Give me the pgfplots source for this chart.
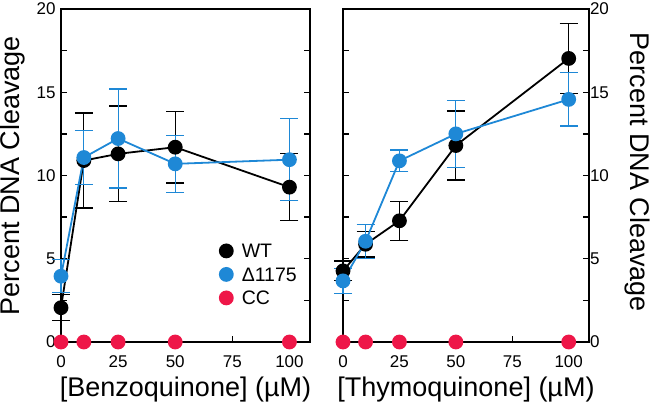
\documentclass[border=0pt]{standalone}
\usepackage{fontspec}
\setmainfont{Liberation Sans}
\usepackage{pgfplots}
\pgfplotsset{compat=1.18}
\definecolor{myblue}{RGB}{30,136,214}
\definecolor{myred}{RGB}{238,22,72}
\pgfplotsset{
  panel/.style={
    scale only axis, width=249pt, height=333pt,
    xmin=0, xmax=109, ymin=0, ymax=20,
    xtick={0,25,50,75,100}, ytick={0,5,10,15,20}, minor ytick={2.5,7.5,12.5,17.5},
    xtick pos=bottom, ytick pos=both, tick align=inside,
    major tick length=6pt, minor tick length=6pt,
    every tick/.style={black, line width=1.3pt},
    axis line style={line width=1.6pt},
    /pgf/number format/assume math mode=true,
    tick label style={font=\fontsize{17}{20}\selectfont},
    xticklabel style={anchor=center, yshift=-20pt},
    label style={font=\fontsize{27}{30}\selectfont},
    clip=false,
    every axis plot/.append style={line width=1.8pt, mark=*, mark size=6.5pt},
    error bars/error bar style={line width=1.2pt},
    error bars/error mark options={rotate=90, mark size=9pt, line width=1.2pt},
  }
}
\begin{document}
\begin{tikzpicture}[x=1pt,y=1pt]
\useasboundingbox (0,0) rectangle (652,410);
% Left panel
\begin{axis}[panel, at={(61pt,68pt)}, anchor=south west,
  yticklabel pos=left,
  yticklabel style={xshift=-2pt},
  xlabel={[Benzoquinone] (µM)},
  ylabel={Percent DNA Cleavage},
  xlabel style={at={(axis description cs:0.5,-0.144)}, anchor=center},
  ylabel style={at={(axis description cs:-0.193,0.5)}, anchor=center},
  legend style={at={(axis description cs:0.637,0.203)}, anchor=west, draw=none, fill=none,
    inner sep=0pt, font=\fontsize{19.5}{23.5}\selectfont,
    nodes={inner ysep=4.75pt, inner xsep=9pt, text height=14pt, text depth=0pt},
    legend image code/.code={\draw[#1] plot coordinates {(0pt,0pt)};}},
  legend cell align=left,
]
\addplot[black, mark options={fill=black}, error bars/.cd, y dir=both, y explicit]
  coordinates {(0,2.06) +- (0,0.78) (10,10.9) +- (0,2.85) (25,11.3) +- (0,2.87) (50,11.7) +- (0,2.15) (100,9.3) +- (0,2.0)};
\addplot[myblue, mark options={fill=myblue}, error bars/.cd, y dir=both, y explicit]
  coordinates {(0,3.95) +- (0,1.0) (10,11.08) +- (0,1.6) (25,12.22) +- (0,2.97) (50,10.7) +- (0,1.7) (100,10.95) +- (0,2.47)};
\addplot[myred, only marks, mark options={fill=myred}]
  coordinates {(0,0) (10,0) (25,0) (50,0) (100,0)};
\addlegendimage{only marks, mark=*, mark size=6.5pt, black, fill=black}
\addlegendentry{WT}
\addlegendimage{only marks, mark=*, mark size=6.5pt, myblue, fill=myblue}
\addlegendentry{Δ1175}
\addlegendimage{only marks, mark=*, mark size=6.5pt, myred, fill=myred}
\addlegendentry{CC}
\end{axis}
% Right panel
\begin{axis}[panel, at={(343pt,68pt)}, anchor=south west, width=246pt,
  yticklabel pos=right,
  yticklabel style={xshift=-2.5pt},
  xlabel={[Thymoquinone] (µM)},
  ylabel={Percent DNA Cleavage},
  xlabel style={at={(axis description cs:0.5,-0.144)}, anchor=center},
  ylabel style={at={(axis description cs:1.195,0.51)}, anchor=center, rotate=180},
]
\addplot[black, mark options={fill=black}, error bars/.cd, y dir=both, y explicit]
  coordinates {(0,4.27) +- (0,0.6) (10,5.87) +- (0,0.77) (25,7.28) +- (0,1.17) (50,11.8) +- (0,2.07) (100,17.03) +- (0,2.1)};
\addplot[myblue, mark options={fill=myblue}, error bars/.cd, y dir=both, y explicit]
  coordinates {(0,3.67) +- (0,0.76) (10,6.05) +- (0,1.03) (25,10.88) +- (0,0.65) (50,12.5) +- (0,2.0) (100,14.57) +- (0,1.6)};
\addplot[myred, only marks, mark options={fill=myred}]
  coordinates {(0,0) (10,0) (25,0) (50,0) (100,0)};
\end{axis}
\end{tikzpicture}
\end{document}
